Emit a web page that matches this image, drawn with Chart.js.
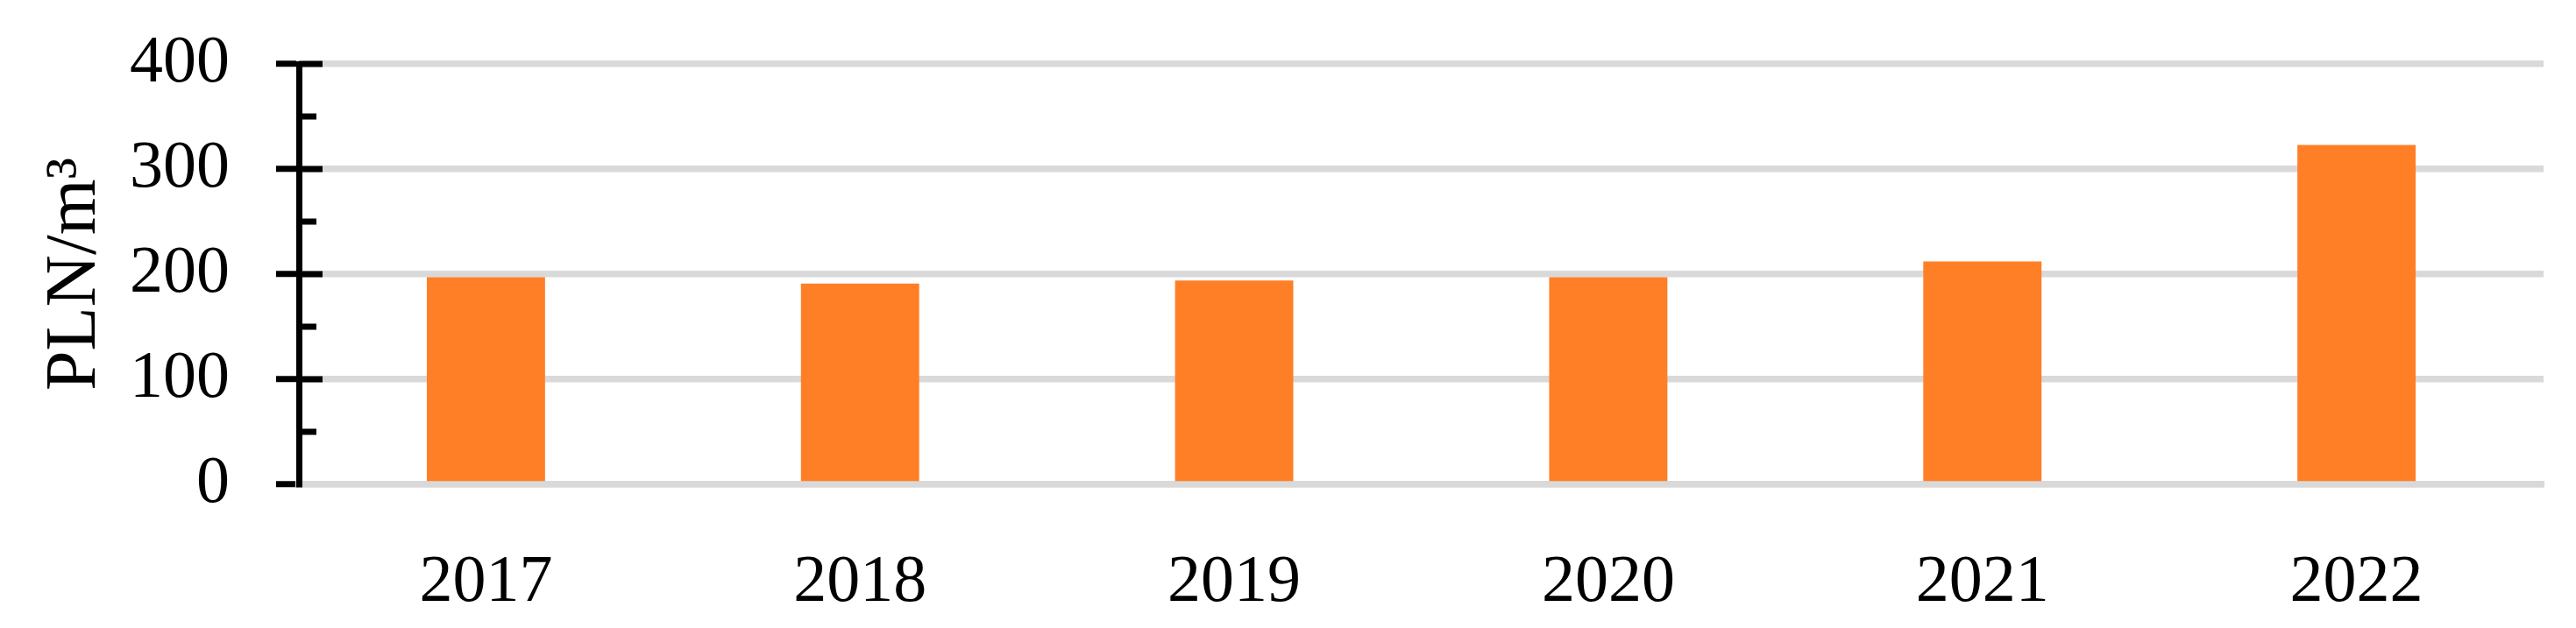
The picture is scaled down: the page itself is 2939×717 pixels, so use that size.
<!DOCTYPE html>
<html>
<head>
<meta charset="utf-8">
<script src="https://cdn.jsdelivr.net/npm/chart.js@4/dist/chart.umd.min.js"></script>
<style>
  html, body { margin: 0; padding: 0; background: #ffffff; }
  #wrap { width: 2939px; height: 717px; }
</style>
</head>
<body>
<div id="wrap"><canvas id="c" width="2939" height="717"></canvas></div>
<script>
const categories = ['2017', '2018', '2019', '2020', '2021', '2022'];
const values = [197, 191, 194, 197, 212, 323];
const yTickValues = [0, 100, 200, 300, 400];
const yMinorTickValues = [50, 150, 250, 350];
const yTitle = 'PLN/m³';

const FONT = "'Liberation Serif', 'Times New Roman', serif";

const innerTicks = {
  id: 'innerTicks',
  afterDraw(chart) {
    const y = chart.scales.y;
    const ctx = chart.ctx;
    const x0 = chart.chartArea.left;
    ctx.save();
    ctx.strokeStyle = '#000000';
    ctx.lineWidth = 7;
    ctx.lineCap = 'butt';
    const draw = (v, len) => {
      const py = y.getPixelForValue(v);
      ctx.beginPath();
      ctx.moveTo(x0, py);
      ctx.lineTo(x0 + len, py);
      ctx.stroke();
    };
    yTickValues.forEach(v => { if (v !== 0) draw(v, 27); });
    yMinorTickValues.forEach(v => draw(v, 20));
    ctx.restore();
  }
};

new Chart(document.getElementById('c'), {
  type: 'bar',
  data: {
    labels: categories,
    datasets: [{
      data: values,
      backgroundColor: '#ff7f27',
      borderWidth: 0,
      categoryPercentage: 1,
      barPercentage: 0.316
    }]
  },
  options: {
    responsive: false,
    animation: false,
    devicePixelRatio: 1,
    layout: { padding: { left: 0, right: 37, top: 73, bottom: 0 } },
    plugins: { legend: { display: false }, tooltip: { enabled: false } },
    scales: {
      x: {
        offset: true,
        grid: { display: false, drawTicks: false },
        border: { display: true, color: '#d9d9d9', width: 7.5 },
        ticks: {
          color: '#000000',
          font: { family: FONT, size: 76 },
          padding: 67,
          maxRotation: 0,
          autoSkip: false
        },
        afterFit(s) { s.height = 164; s.paddingLeft = 0; s.paddingRight = 0; }
      },
      y: {
        min: 0,
        max: 400,
        afterBuildTicks(s) { s.ticks = yTickValues.map(v => ({ value: v })); },
        grid: {
          color: '#d9d9d9',
          lineWidth: 7.5,
          drawTicks: true,
          tickLength: 26,
          tickColor: '#000000',
          tickWidth: 7
        },
        border: { display: true, color: '#000000', width: 7 },
        ticks: {
          color: '#000000',
          font: { family: FONT, size: 76 },
          padding: 53
        },
        title: {
          display: true,
          text: yTitle,
          color: '#000000',
          font: { family: FONT, size: 82 },
          padding: { top: 37, bottom: 0 }
        },
        afterFit(s) { s.width = 341; s.paddingTop = 0; s.paddingBottom = 0; }
      }
    }
  },
  plugins: [innerTicks]
});
</script>
</body>
</html>
